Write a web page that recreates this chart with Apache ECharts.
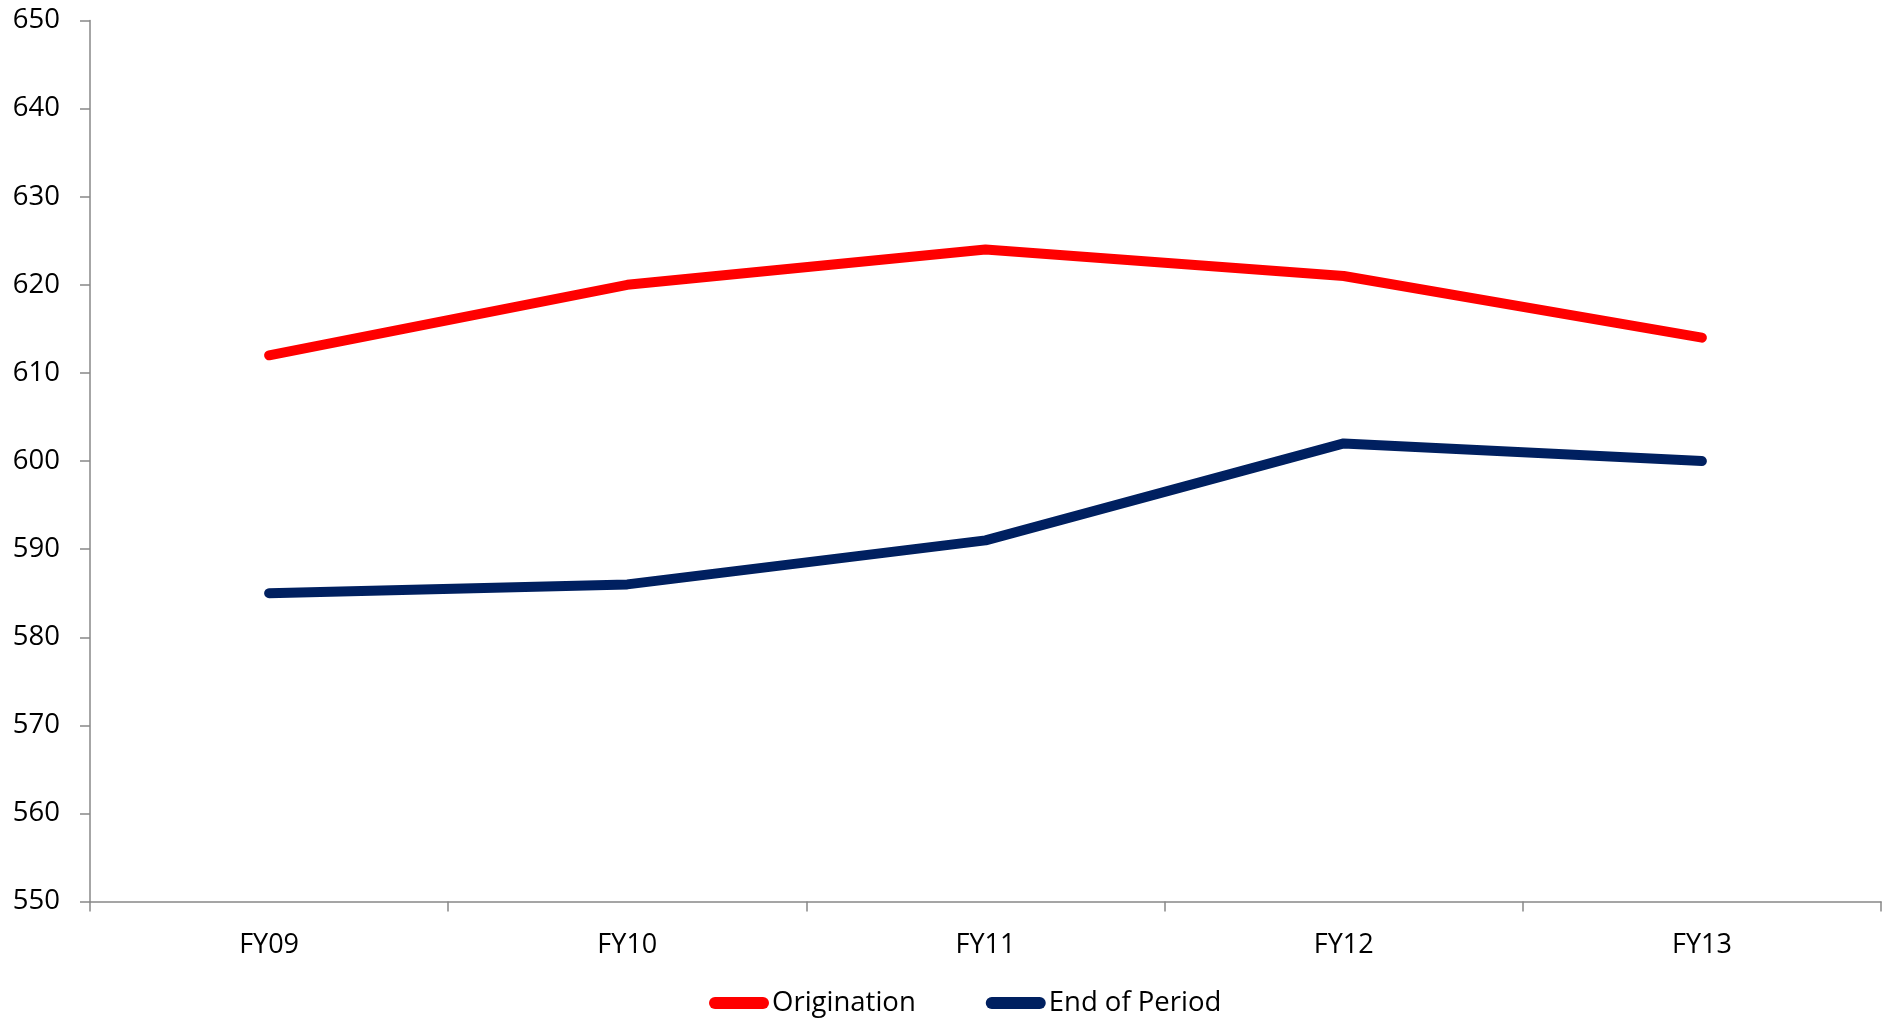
<!DOCTYPE html>
<html>
<head>
<meta charset="utf-8">
<script src="https://cdn.jsdelivr.net/npm/echarts@6/dist/echarts.min.js"></script>
<style>
html,body{margin:0;padding:0;background:#fff;}
#chart{width:1890px;height:1018px;}
</style>
</head>
<body>
<div id="chart"></div>
<script>
const categories = ['FY09', 'FY10', 'FY11', 'FY12', 'FY13'];
const origination = [612, 620, 624, 621, 614];
const endOfPeriod = [585, 586, 591, 602, 600];
const seriesNames = ['Origination', 'End of Period'];
const yTicks = { min: 550, max: 650, interval: 10 };

const FONT = 'Open Sans';
const pill = 'path://M6,0 L54,0 A6,6 0 0 1 54,12 L6,12 A6,6 0 0 1 6,0 Z';

const chart = echarts.init(document.getElementById('chart'), null, { renderer: 'canvas' });
chart.setOption({
  backgroundColor: '#ffffff',
  animation: false,
  textStyle: { fontFamily: FONT },
  grid: { left: 90, right: 9, top: 20.5, bottom: 116.4, containLabel: false },
  legend: {
    left: 704,
    top: 984,
    itemWidth: 60,
    itemHeight: 12,
    itemGap: 70,
    symbolKeepAspect: false,
    textStyle: { fontFamily: FONT, fontSize: 27.5, color: '#000', padding: [0, 0, 0, -2] },
    data: [
      { name: seriesNames[0], icon: pill, itemStyle: { color: '#FF0000' } },
      { name: seriesNames[1], icon: pill, itemStyle: { color: '#002060' } }
    ]
  },
  xAxis: {
    type: 'category',
    data: categories,
    boundaryGap: true,
    axisLine: { show: true, lineStyle: { color: '#888888', width: 1.5 } },
    axisTick: { show: true, inside: false, length: 10, alignWithLabel: false, lineStyle: { color: '#888888', width: 1.5 } },
    axisLabel: { fontFamily: FONT, fontSize: 27, color: '#000', margin: 30 },
    splitLine: { show: false }
  },
  yAxis: {
    type: 'value',
    min: yTicks.min,
    max: yTicks.max,
    interval: yTicks.interval,
    axisLine: { show: true, lineStyle: { color: '#888888', width: 1.5 } },
    axisTick: { show: true, inside: false, length: 10, lineStyle: { color: '#888888', width: 1.5 } },
    axisLabel: { fontFamily: FONT, fontSize: 27.5, color: '#000', margin: 30 },
    splitLine: { show: false }
  },
  series: [
    {
      name: seriesNames[0],
      type: 'line',
      data: origination,
      symbol: 'none',
      color: '#FF0000',
      lineStyle: { color: '#FF0000', width: 10, cap: 'round', join: 'round' }
    },
    {
      name: seriesNames[1],
      type: 'line',
      data: endOfPeriod,
      symbol: 'none',
      color: '#002060',
      lineStyle: { color: '#002060', width: 10, cap: 'round', join: 'round' }
    }
  ]
});
</script>
</body>
</html>
